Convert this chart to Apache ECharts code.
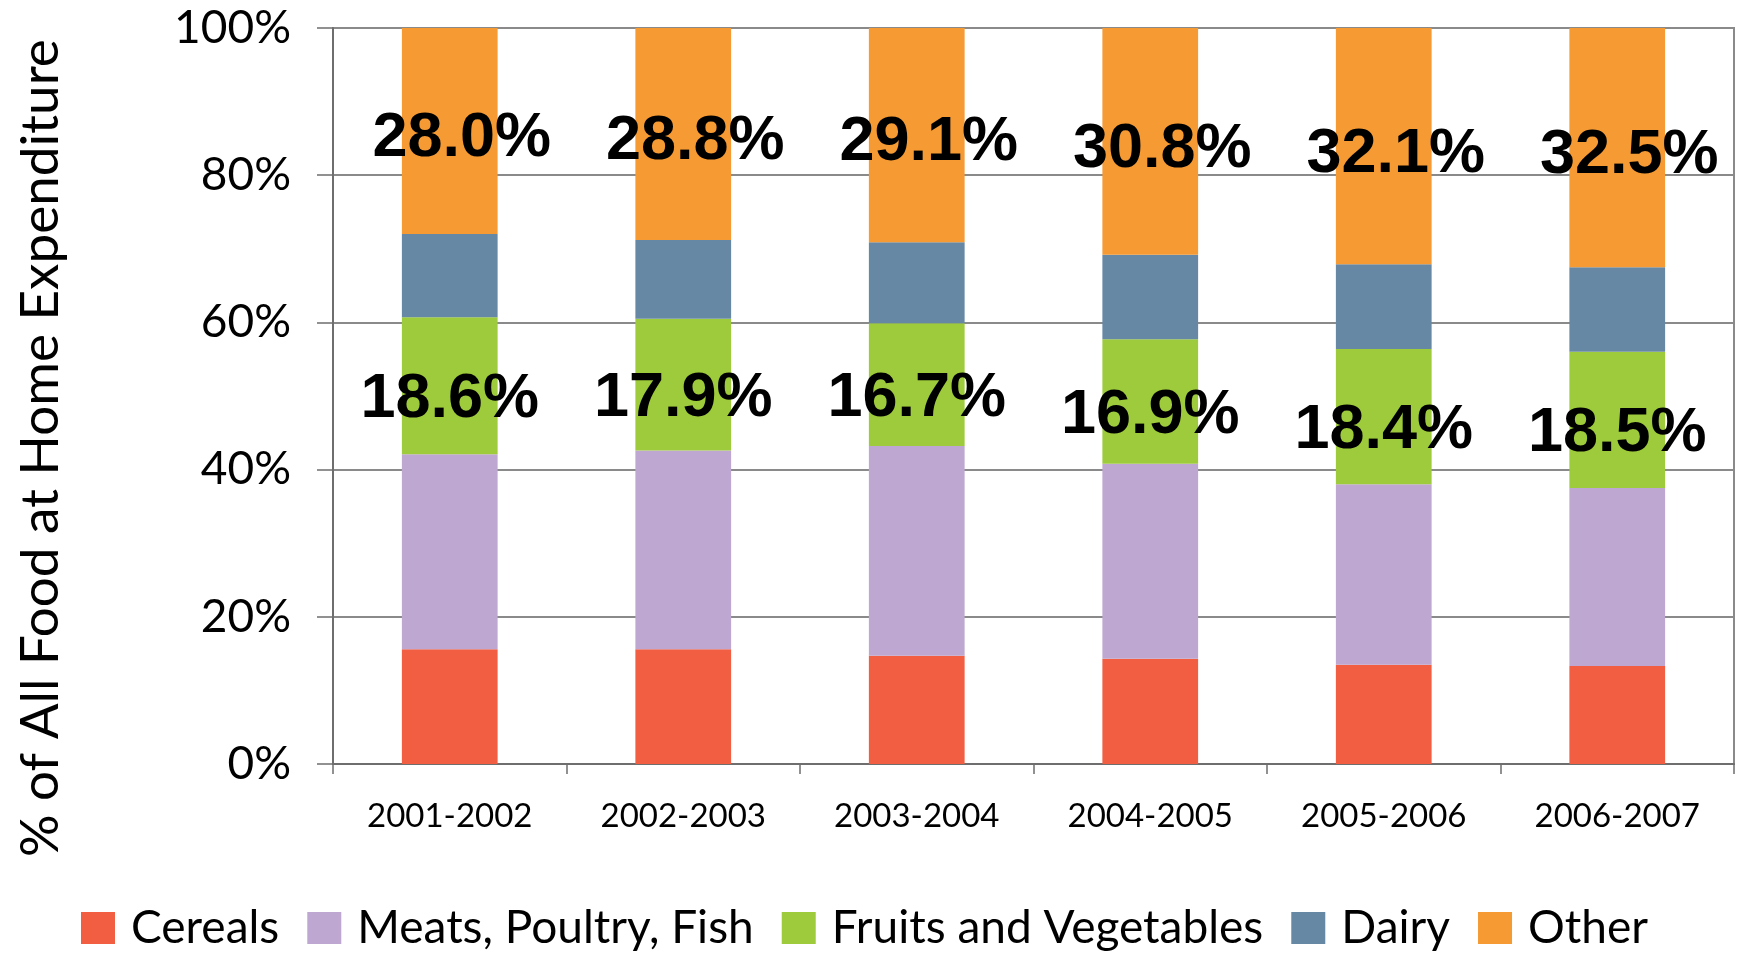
<!DOCTYPE html>
<html>
<head>
<meta charset="utf-8">
<title>Food at Home Expenditures</title>
<script src="https://cdn.jsdelivr.net/npm/echarts@6/dist/echarts.min.js"></script>
<style>
  html, body { margin: 0; padding: 0; background: #ffffff; }
  #chart { width: 1754px; height: 958px; }
</style>
</head>
<body>
<div id="chart"></div>
<script>
// years on the x axis
var categories = ['2001-2002', '2002-2003', '2003-2004', '2004-2005', '2005-2006', '2006-2007'];

// share of food-at-home spending, percent (stacked to 100)
var cereals = [15.6, 15.6, 14.7, 14.3, 13.5, 13.3];
var meats   = [26.5, 27.0, 28.5, 26.5, 24.5, 24.2];
var fruits  = [18.6, 17.9, 16.7, 16.9, 18.4, 18.5];
var dairy   = [11.3, 10.7, 11.0, 11.5, 11.5, 11.5];
var other   = [28.0, 28.8, 29.1, 30.8, 32.1, 32.5];

var yTicks = [0, 20, 40, 60, 80, 100];

var lightFont = 'Lato';
var chart = echarts.init(document.getElementById('chart'));

function pctLabel(p) {
  return p.value.toFixed(1) + '%';
}

var bigLabel = {
  show: true,
  position: 'inside',
  formatter: pctLabel,
  color: '#000',
  fontFamily: 'Liberation Sans',
  fontWeight: 'bold',
  fontSize: 63
};

function barSeries(name, data, color, label) {
  return {
    name: name,
    type: 'bar',
    stack: 'total',
    barWidth: '41%',
    data: data,
    itemStyle: { color: color },
    label: label || { show: false },
    emphasis: { disabled: true }
  };
}

var option = {
  animation: false,
  backgroundColor: '#ffffff',
  grid: {
    left: 333, right: 20, top: 28, bottom: 194,
    show: true,
    borderColor: '#8a8a8a',
    borderWidth: 2
  },
  legend: {
    left: 76,
    top: 900,
    itemWidth: 34,
    itemHeight: 32,
    itemGap: 28,
    icon: 'rect',
    textStyle: {
      fontFamily: lightFont,
      fontSize: 46,
      color: '#000',
      padding: [0, 0, 0, 11]
    },
    data: ['Cereals', 'Meats, Poultry, Fish', 'Fruits and Vegetables', 'Dairy', 'Other']
  },
  xAxis: {
    type: 'category',
    data: categories,
    axisLine: { lineStyle: { color: '#6e6e6e', width: 2 } },
    axisTick: { show: true, length: 10, lineStyle: { color: '#6e6e6e', width: 1.5 } },
    axisLabel: {
      margin: 36,
      color: '#000',
      fontFamily: lightFont,
      fontSize: 33
    }
  },
  yAxis: {
    type: 'value',
    min: yTicks[0],
    max: yTicks[yTicks.length - 1],
    interval: 20,
    axisLine: { show: true, lineStyle: { color: '#6e6e6e', width: 2 } },
    axisTick: { show: true, length: 16, lineStyle: { color: '#6e6e6e', width: 1.5 } },
    splitLine: { lineStyle: { color: '#8a8a8a', width: 2 } },
    axisLabel: {
      margin: 42,
      formatter: '{value}%',
      color: '#000',
      fontFamily: lightFont,
      fontSize: 46
    }
  },
  graphic: [{
    type: 'text',
    x: 41,
    y: 857,
    rotation: Math.PI / 2,
    style: {
      text: '% of All Food at Home Expenditures',
      fontFamily: lightFont,
      fontSize: 53,
      fill: '#000',
      align: 'left',
      verticalAlign: 'middle',
      width: 822,
      overflow: 'truncate',
      ellipsis: ''
    }
  }],
  series: [
    barSeries('Cereals', cereals, '#f15e41'),
    barSeries('Meats, Poultry, Fish', meats, '#bea8d1'),
    barSeries('Fruits and Vegetables', fruits, '#9ecb3b',
      Object.assign({}, bigLabel, { offset: [0, 14] })),
    barSeries('Dairy', dairy, '#6688a5'),
    barSeries('Other', other, '#f69a33',
      Object.assign({}, bigLabel, { offset: [12, 8] }))
  ]
};

chart.setOption(option);
window.onresize = function () {
  chart.resize();
};
</script>
</body>
</html>
